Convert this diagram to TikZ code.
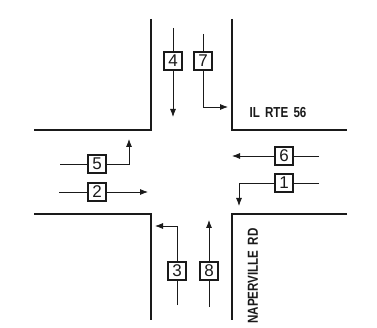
\documentclass[tikz,border=0pt]{standalone}
\usepackage{fontspec}
\setmainfont{Liberation Sans}
\newfontfamily\signfont[FakeStretch=0.8]{Liberation Sans}
\usepackage{xcolor}
\usetikzlibrary{arrows.meta,positioning}
\definecolor{scanink}{HTML}{1A1A1A}

\begin{document}
\begin{tikzpicture}[
  x=1pt,y=-1pt,
  movebox/.style={draw=scanink,line width=1.2pt,fill=white,minimum size=18pt,inner sep=0pt,text=scanink,font=\fontsize{17}{17}\selectfont},
  flow/.style={draw=scanink,line width=0.8pt},
  arrow/.style={flow,-{Latex[length=8pt,width=6pt]}},
  curb/.style={draw=scanink,line width=1.2pt},
  sign/.style={text=scanink,inner sep=0pt,font=\signfont\bfseries\fontsize{14.5}{14.5}\selectfont}
]
\useasboundingbox (0,0) rectangle (377,328);
% curbs
\coordinate (nwa) at (151,19);
\coordinate (nwb) at (151,130);
\coordinate (nwc) at (34,130);
\coordinate (nea) at (232,19);
\coordinate (neb) at (232,130);
\coordinate (nec) at (347,130);
\coordinate (swa) at (34,214);
\coordinate (swb) at (151,214);
\coordinate (swc) at (151,320);
\coordinate (sea) at (347,214);
\coordinate (seb) at (232,214);
\coordinate (sec) at (232,320);
\draw[curb] (nwa) -- (nwb) -- (nwc);
\draw[curb] (nea) -- (neb) -- (nec);
\draw[curb] (swa) -- (swb) -- (swc);
\draw[curb] (sea) -- (seb) -- (sec);
% movements
\node[movebox] (move4) at (173,61) {4};
\node[movebox] (move7) at (203,61) {7};
\node[movebox] (move5) at (97,164) {5};
\node[movebox] (move2) at (97,192) {2};
\node[movebox] (move6) at (284,156) {6};
\node[movebox] (move1) at (284,183) {1};
\node[movebox] (move3) at (177,271) {3};
\node[movebox] (move8) at (209,271) {8};
\coordinate (in4) at (173,28);
\coordinate (out4) at (173,117);
\coordinate (in7) at (203,34);
\coordinate (out7) at (228,107);
\coordinate (in5) at (60,164);
\coordinate (out5) at (129,139);
\coordinate (in2) at (59,192);
\coordinate (out2) at (148,192);
\coordinate (in6) at (319,156);
\coordinate (out6) at (232,156);
\coordinate (in1) at (319,183);
\coordinate (out1) at (239,206);
\coordinate (in3) at (177,305);
\coordinate (out3) at (155,226);
\coordinate (in8) at (209,307);
\coordinate (out8) at (209,220);
\draw[flow] (in4) -- (move4);
\draw[arrow] (move4) -- (out4);
\draw[flow] (in7) -- (move7);
\draw[arrow] (move7) |- (out7);
\draw[flow] (in5) -- (move5);
\draw[arrow] (move5) -| (out5);
\draw[flow] (in2) -- (move2);
\draw[arrow] (move2) -- (out2);
\draw[flow] (in6) -- (move6);
\draw[arrow] (move6) -- (out6);
\draw[flow] (in1) -- (move1);
\draw[arrow] (move1) -| (out1);
\draw[flow] (in3) -- (move3);
\draw[arrow] (move3) |- (out3);
\draw[flow] (in8) -- (move8);
\draw[arrow] (move8) -- (out8);
% street names
\node[sign] (rte) at (278,113) {IL\hspace{2pt} RTE\hspace{2pt} 56};
\node[sign,rotate=90] (rd) at (253,276) {NAPERVILLE\hspace{2pt} RD};
\end{tikzpicture}
\end{document}
